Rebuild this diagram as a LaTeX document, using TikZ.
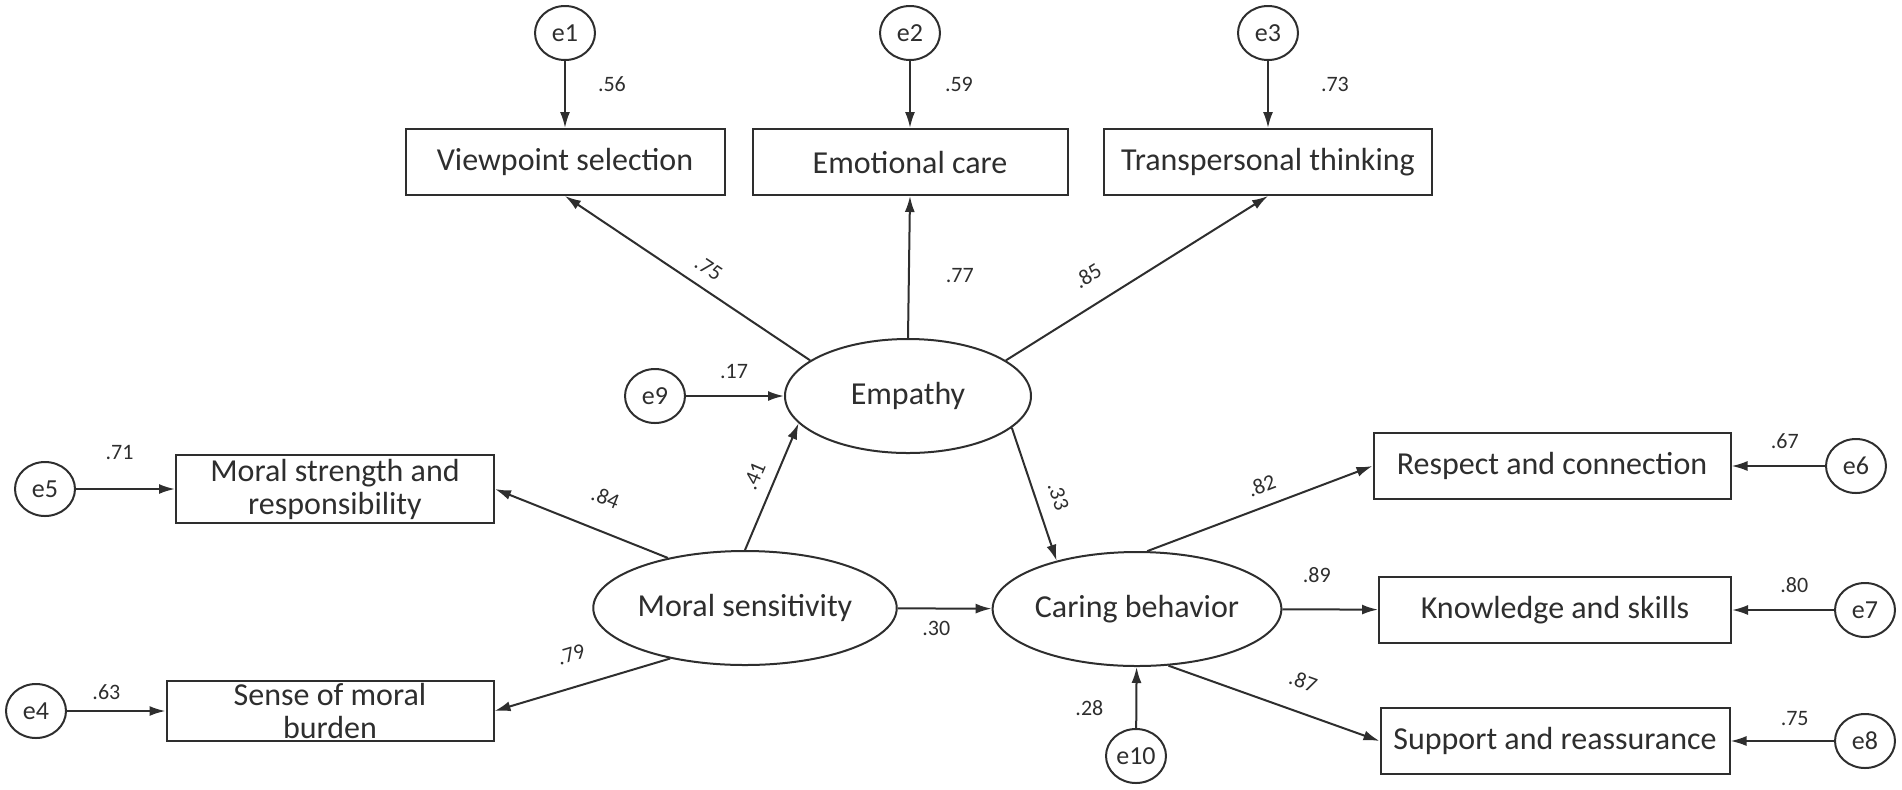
\documentclass[tikz,border=0pt]{standalone}
\usepackage{fontspec}
\setmainfont{Carlito}
\usepackage{tikz}
\usetikzlibrary{positioning}
\usetikzlibrary{shapes,arrows.meta}
\definecolor{ink}{HTML}{2E2E2E}
\tikzset{%
  block/.style    = {draw, rectangle, minimum height = 33pt, inner sep = 1pt,
    align = center, font = \fontsize{16}{16.5}\selectfont},
  latent/.style   = {draw, ellipse, minimum width = 123pt, minimum height = 57pt,
    inner sep = 0pt, font = \fontsize{16}{18}\selectfont}, % factor
  err/.style      = {draw, ellipse, minimum width = 30pt, minimum height = 27pt,
    inner sep = 0pt, font = \fontsize{13}{15}\selectfont}, % residual
  coef/.style     = {inner sep = 1pt, font = \fontsize{11}{13}\selectfont}
}

\begin{document}
\begin{tikzpicture}[x=0.5pt, y=-0.5pt, color=ink, line width=1pt, >={Latex[length=8pt, width=5pt]}]

	\useasboundingbox (0,0) rectangle (1902,789);

	% factors
	\node[latent] (emp) at (908,396) {Empathy};
	\node[latent] (ms) at (745,608) {Moral sensitivity};
	\node[latent] (cb) at (1137,609) {Caring behavior};

	% indicators
	\node[block, minimum width = 159.5pt] (vs) at (565,162) {Viewpoint selection};
	\node[block, minimum width = 157.5pt] (ec) at (910,162) {Emotional care};
	\node[block, minimum width = 164pt] (tt) at (1268,162) {Transpersonal thinking};
	\node[block, minimum width = 159pt, minimum height = 34pt] (msr) at (335,489) {Moral strength and\\responsibility};
	\node[block, minimum width = 163.5pt, minimum height = 30pt] (smb) at (330,711) {Sense of moral\\burden};
	\node[block, minimum width = 178.5pt] (rc) at (1552,466) {Respect and connection};
	\node[block, minimum width = 176pt] (ks) at (1555,610) {Knowledge and skills};
	\node[block, minimum width = 174.5pt] (sr) at (1555,741) {Support and reassurance};

	% residuals
	\node[err] (e1) at (565,33) {e1};
	\node[err] (e2) at (910,33) {e2};
	\node[err] (e3) at (1268,33) {e3};
	\node[err] (e4) at (36,711) {e4};
	\node[err] (e5) at (45,489) {e5};
	\node[err] (e6) at (1856,466) {e6};
	\node[err] (e7) at (1865,610) {e7};
	\node[err] (e8) at (1865,741) {e8};
	\node[err] (e9) at (655,396) {e9};
	\node[err] (e10) at (1136,756) {e10};

	\draw[->] (e1) -- node[coef, right=15pt, pos=.35] {.56} (vs);
	\draw[->] (e2) -- node[coef, right=16pt, pos=.35] {.59} (ec);
	\draw[->] (e3) -- node[coef, right=25pt, pos=.35] {.73} (tt);

	\draw[->] (emp.160) -- node[coef, sloped, above=5pt, pos=.46] {.75} (vs.south);
	\draw[->] (emp.north) -- node[coef, right=17pt, pos=.44] {.77} (ec.south);
	\draw[->] (emp.20) -- node[coef, sloped, above=9pt, pos=.37] {.85} (tt.south);

	\draw[->] (e9) -- node[coef, above=7pt, pos=.49] {.17} (emp);
	\draw[->] (ms.north) -- node[coef, sloped, above=5pt, pos=.52] {.41} (emp.194);
	\draw[->] (emp.343) -- node[coef, sloped, above=6pt, pos=.57] {.33} (cb.149);

	\draw[->] (ms.147) -- node[coef, sloped, above=11pt, pos=.43] {.84} (msr.east);
	\draw[->] (ms.214) -- node[coef, sloped, above=11pt, pos=.51] {.79} (smb.east);
	\draw[->] (ms) -- node[coef, below=5pt, pos=.41] {.30} (cb);

	\draw[->] (cb.80) -- node[coef, sloped, above=5pt, pos=.54] {.82} (rc.west);
	\draw[->] (cb) -- node[coef, above=12pt, pos=.36] {.89} (ks);
	\draw[->] (cb.299) -- node[coef, sloped, above=10pt, pos=.59] {.87} (sr.west);
	\draw[->] (e10) -- node[coef, left=15pt, pos=.33] {.28} (cb);

	\draw[->] (e6) -- node[coef, above=7pt, pos=.43] {.67} (rc);
	\draw[->] (e7) -- node[coef, above=7pt, pos=.39] {.80} (ks);
	\draw[->] (e8) -- node[coef, above=6pt, pos=.38] {.75} (sr);
	\draw[->] (e5) -- node[coef, above=13pt, pos=.44] {.71} (msr);
	\draw[->] (e4) -- node[coef, above=4pt, pos=.4] {.63} (smb);

\end{tikzpicture}
\end{document}
